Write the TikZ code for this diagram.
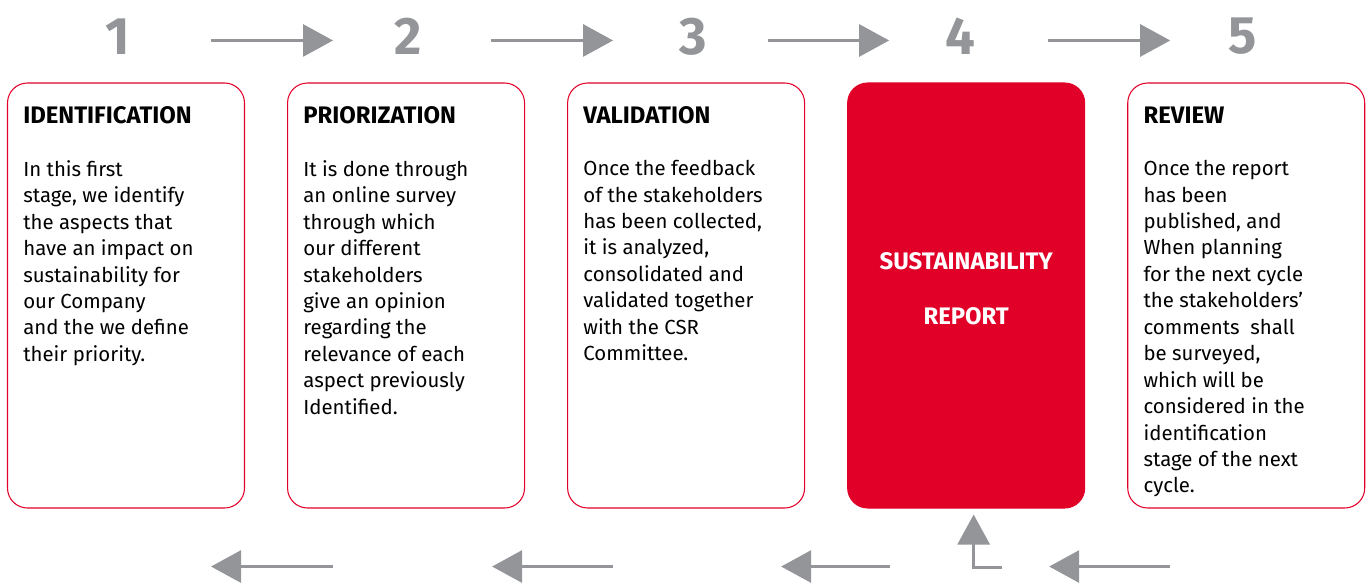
\documentclass[tikz,border=0pt]{standalone}
\usepackage{fontspec}
\setmainfont{Fira Sans}
\usetikzlibrary{positioning, calc, arrows.meta}

\definecolor{cardred}{RGB}{225,0,40}
\definecolor{stepgray}{RGB}{147,149,152}

\begin{document}
\begin{tikzpicture}[
    node distance=0.84cm,
    % Styles
    card/.style={draw=cardred, line width=0.6pt, rectangle, rounded corners=0.4cm, minimum width=4.74cm, minimum height=8.5cm, inner sep=0pt},
    redcard/.style={card, fill=cardred},
    redtext/.style={text=white, align=center, inner sep=0pt, font=\fontsize{13.6}{15}\selectfont\bfseries},
    num/.style={font=\fontsize{30}{30}\selectfont\bfseries, text=stepgray},
    heading/.style={anchor=west, inner sep=0pt, font=\fontsize{13.6}{15}\selectfont\bfseries},
    body/.style={anchor=north west, inner sep=0pt, align=left, font=\fontsize{11.6}{15.05}\selectfont},
    flow/.style={-{Triangle[length=0.6cm, width=0.64cm]}, line width=1.7pt, draw=stepgray}
]
    \useasboundingbox (0,0) rectangle (27.4,-11.66);

    % --- CARDS ---
    \node[card] (box1) at (2.52,-5.91) {};
    \node[card, right=of box1] (box2) {};
    \node[card, right=of box2] (box3) {};
    \node[redcard, right=of box3] (box4) {};
    \node[card, right=of box4] (box5) {};
    \node[redtext] (report) at ($(box4.center)+(0,0.13)$) {SUSTAINABILITY\\[0.58cm]REPORT};

    % --- STEP NUMBERS ---
    \node[num] (num1) at ($(box1.north)+(-0.16,0.92)$) {1};
    \node[num] (num2) at ($(box2.north)+(0.05,0.92)$) {2};
    \node[num] (num3) at ($(box3.north)+(0.15,0.92)$) {3};
    \node[num] (num4) at ($(box4.north)+(-0.11,0.92)$) {4};
    \node[num] (num5) at ($(box5.north)+(-0.07,0.92)$) {5};

    % --- HEADINGS ---
    \node[heading] (head1) at ($(box1.north west)+(0.32,-0.66)$) {IDENTIFICATION};
    \node[heading] (head2) at ($(box2.north west)+(0.32,-0.66)$) {PRIORIZATION};
    \node[heading] (head3) at ($(box3.north west)+(0.32,-0.66)$) {VALIDATION};
    \node[heading] (head5) at ($(box5.north west)+(0.32,-0.66)$) {REVIEW};

    % --- BODY TEXT ---
    \node[body] (text1) at ($(box1.north west)+(0.32,-1.55)$)
        {In this first\\stage, we identify\\the aspects that\\have an impact on\\sustainability for\\our Company\\and the we define\\their priority.};
    \node[body] (text2) at ($(box2.north west)+(0.32,-1.55)$)
        {It is done through\\an online survey\\through which\\our different\\stakeholders\\give an opinion\\regarding the\\relevance of each\\aspect previously\\Identified.};
    \node[body] (text3) at ($(box3.north west)+(0.32,-1.55)$)
        {Once the feedback\\of the stakeholders\\has been collected,\\it is analyzed,\\consolidated and\\validated together\\with the CSR\\Committee.};
    \node[body] (text5) at ($(box5.north west)+(0.32,-1.55)$)
        {Once the report\\has been\\published, and\\When planning\\for the next cycle\\the stakeholders’\\comments~ shall\\be surveyed,\\which will be\\considered in the\\identification\\stage of the next\\cycle.};

    % --- TOP ARROWS (forward) ---
    \draw[flow] ($(box1.north east)+(-0.68,0.84)$) -- ($(box2.north west)+(0.92,0.84)$);
    \draw[flow] ($(box2.north east)+(-0.68,0.84)$) -- ($(box3.north west)+(0.92,0.84)$);
    \draw[flow] ($(box3.north east)+(-0.74,0.84)$) -- ($(box4.north west)+(0.84,0.84)$);
    \draw[flow] ($(box4.north east)+(-0.74,0.84)$) -- ($(box5.north west)+(0.86,0.84)$);

    % --- BOTTOM ARROWS (back) ---
    \draw[flow] ($(box2.south west)+(0.92,-1.16)$) -- ($(box1.south east)+(-0.68,-1.16)$);
    \draw[flow] ($(box3.south west)+(0.92,-1.16)$) -- ($(box2.south east)+(-0.66,-1.16)$);
    \draw[flow] ($(box4.south west)+(0.86,-1.16)$) -- ($(box3.south east)+(-0.48,-1.16)$);
    \draw[flow] ($(box5.south west)+(0.86,-1.16)$) -- ($(box4.south east)+(-0.72,-1.16)$);
    % review feeds back into the report
    \draw[flow] ($(box4.south)+(0.72,-1.18)$) -| ($(box4.south)+(0.15,-0.12)$);

\end{tikzpicture}
\end{document}
